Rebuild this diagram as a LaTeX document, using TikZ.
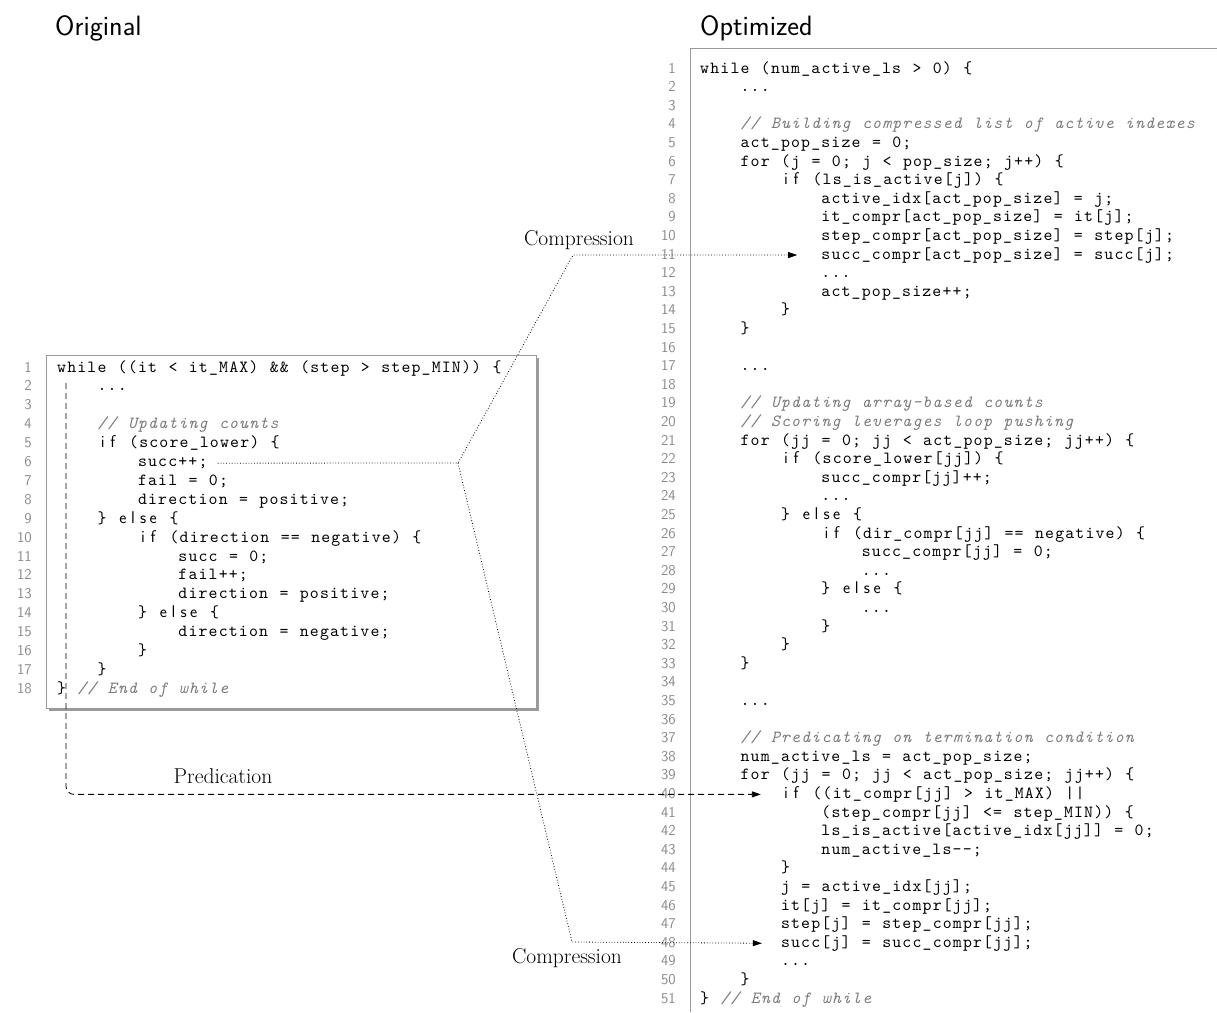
\documentclass[tikz,border=0pt]{standalone}
\usepackage{fontspec}
\usetikzlibrary{arrows.meta,shadows}
\newfontfamily\codefont{lmmono10-regular.otf}[LetterSpace=6.9,WordSpace=1.13,ItalicFont=lmmono10-italic.otf]
\definecolor{FrameGray}{HTML}{9A9A9A}
\definecolor{NumGray}{HTML}{8A8A8A}
\definecolor{CmtGray}{HTML}{7A7A7A}
\newcommand{\cmt}[1]{\textcolor{CmtGray}{\itshape // #1}}
\newcommand{\kwc}[1]{\makebox[10.1pt]{\sffamily #1}}
\newcommand{\kwif}{\kwc{i}\kwc{f}}
\newcommand{\kwelse}{\kwc{e}\kwc{l}\kwc{s}\kwc{e}}

\begin{document}
\begin{tikzpicture}[x=1pt,y=-1pt]
  \tikzset{
    code/.style={anchor=base west,inner sep=0pt,font=\codefont\fontsize{17}{19}\selectfont},
    lnum/.style={anchor=base east,inner sep=0pt,text=NumGray,font=\sffamily\fontsize{15}{17}\selectfont},
    title/.style={anchor=base west,inner sep=0pt,font=\sffamily\fontsize{28}{32}\selectfont},
    note/.style={anchor=base,inner sep=0pt,font=\rmfamily\fontsize{21.5}{24}\selectfont},
    compr/.style={dotted,line width=0.8pt,-{Triangle[length=9pt,width=6pt]}},
    pred/.style={dash pattern=on 6pt off 4pt,line width=0.9pt,rounded corners=8pt,-{Triangle[length=9pt,width=6pt]}}
  }
  \useasboundingbox (0,0) rectangle (1217,1012);
  \node[title] (orig) at (55,35) {Original};
  \node[title] (opt)  at (700,35) {Optimized};

  % original loop
  \node[draw=FrameGray,fill=white,line width=0.8pt,minimum width=490pt,minimum height=353pt,
        drop shadow={shadow xshift=2.5pt,shadow yshift=-2.5pt,fill=FrameGray,opacity=1}] (origbox) at (291,531.5) {};
  \foreach \n/\ind/\txt in {
      1/0/{while ((it < it\_MAX) \&\& (step > step\_MIN)) \{},
      2/4/{...},
      3/0/{},
      4/4/{\cmt{Updating counts}},
      5/4/{\kwif{} (score\_lower) \{},
      6/8/{succ++;},
      7/8/{fail = 0;},
      8/8/{direction = positive;},
      9/4/{\} \kwelse{} \{},
      10/8/{\kwif{} (direction == negative) \{},
      11/12/{succ = 0;},
      12/12/{fail++;},
      13/12/{direction = positive;},
      14/8/{\} \kwelse{} \{},
      15/12/{direction = negative;},
      16/8/{\}},
      17/4/{\}},
      18/0/{\} \cmt{End of while}}} {
    \node[lnum] (ln\n) at (32,{372+(\n-1)*18.9}) {\n};
    \node[code] (L\n) at ({57+\ind*10.1},{372+(\n-1)*18.9}) {\txt};
  }

  % optimized loop
  \draw[FrameGray,line width=0.8pt] (690,1012) |- (1217,48);
  \foreach \n/\ind/\txt in {
      1/0/{while (num\_active\_ls > 0) \{},
      2/4/{...},
      3/0/{},
      4/4/{\cmt{Building compressed list of active indexes}},
      5/4/{act\_pop\_size = 0;},
      6/4/{for (j = 0; j < pop\_size; j++) \{},
      7/8/{\kwif{} (ls\_is\_active[j]) \{},
      8/12/{active\_idx[act\_pop\_size] = j;},
      9/12/{it\_compr[act\_pop\_size] = it[j];},
      10/12/{step\_compr[act\_pop\_size] = step[j];},
      11/12/{succ\_compr[act\_pop\_size] = succ[j];},
      12/12/{...},
      13/12/{act\_pop\_size++;},
      14/8/{\}},
      15/4/{\}},
      16/0/{},
      17/4/{...},
      18/0/{},
      19/4/{\cmt{Updating array-based counts}},
      20/4/{\cmt{Scoring leverages loop pushing}},
      21/4/{for (jj = 0; jj < act\_pop\_size; jj++) \{},
      22/8/{\kwif{} (score\_lower[jj]) \{},
      23/12/{succ\_compr[jj]++;},
      24/12/{...},
      25/8/{\} \kwelse{} \{},
      26/12/{\kwif{} (dir\_compr[jj] == negative) \{},
      27/16/{succ\_compr[jj] = 0;},
      28/16/{...},
      29/12/{\} \kwelse{} \{},
      30/16/{...},
      31/12/{\}},
      32/8/{\}},
      33/4/{\}},
      34/0/{},
      35/4/{...},
      36/0/{},
      37/4/{\cmt{Predicating on termination condition}},
      38/4/{num\_active\_ls = act\_pop\_size;},
      39/4/{for (jj = 0; jj < act\_pop\_size; jj++) \{},
      40/8/{\kwif{} ((it\_compr[jj] > it\_MAX) ||},
      41/12/{(step\_compr[jj] <= step\_MIN)) \{},
      42/12/{ls\_is\_active[active\_idx[jj]] = 0;},
      43/12/{num\_active\_ls-{}-;},
      44/8/{\}},
      45/8/{j = active\_idx[jj];},
      46/8/{it[j] = it\_compr[jj];},
      47/8/{step[j] = step\_compr[jj];},
      48/8/{succ[j] = succ\_compr[jj];},
      49/8/{...},
      50/4/{\}},
      51/0/{\} \cmt{End of while}}} {
    \node[lnum] (rn\n) at (676,{73+(\n-1)*18.6}) {\n};
    \node[code] (R\n) at ({700+\ind*10.1},{73+(\n-1)*18.6}) {\txt};
  }

  % transformations
  \coordinate (split) at (458,463);
  \coordinate (bendup) at (573,255);
  \coordinate (benddown) at (572,942);
  \coordinate (predtop) at (66,383);
  \draw[compr] ([xshift=10pt]L6.east) -- (split) -- (bendup) -- ([xshift=-24pt]R11.west);
  \draw[compr] (split) -- (benddown) -- ([xshift=-19pt]R48.west);
  \draw[pred] (predtop) |- ([xshift=-20pt]R40.west);
  \node[note] (comprup) at (579,245) {Compression};
  \node[note] (comprdown) at (567,963) {Compression};
  \node[note] (predic) at (223,783) {Predication};
\end{tikzpicture}
\end{document}
